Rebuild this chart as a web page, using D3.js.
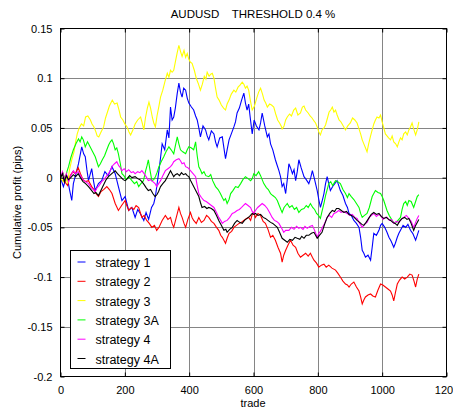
<!DOCTYPE html>
<html>
<head>
<meta charset="utf-8">
<script src="https://cdn.jsdelivr.net/npm/d3@7"></script>
<style>
  body { margin: 0; background: #fff; }
  svg { display: block; }
  text { font-family: "Liberation Sans", Arial, sans-serif; fill: #000; }
</style>
</head>
<body>
<svg id="chart" width="453" height="413"></svg>
<script>
// ---- chart data -------------------------------------------------------
const chartTitle = "AUDUSD    THRESHOLD 0.4 %";
const xLabel = "trade";
const yLabel = "Cumulative profit (pips)";
const xTicks = [0, 200, 400, 600, 800, 1000, 1200];
const yTicks = [-0.2, -0.15, -0.1, -0.05, 0, 0.05, 0.1, 0.15];
const seriesNames = ["strategy 1", "strategy 2", "strategy 3", "strategy 3A", "strategy 4", "strategy 4A"];
const seriesColors = ["#0000ff", "#ff0000", "#ffff00", "#00ff00", "#ff00ff", "#000000"];

// each series: [trade, cumulative profit]
const strategy1 = [[0,0],[9,-0.009],[20,0.002],[28,-0.012],[35,-0.023],[40,-0.006],[48,0.004],[56,0.014],[66,0.031],[72,0.024],[77,0.021],[82,0.008],[87,-0.003],[97,0.009],[103,-0.004],[108,-0.013],[118,-0.006],[128,-0.003],[138,0.006],[148,0.002],[160,0.011],[170,0.004],[180,-0.009],[191,-0.023],[201,-0.019],[212,-0.033],[222,-0.030],[232,-0.040],[240,-0.032],[248,-0.036],[259,-0.043],[266,-0.035],[274,-0.042],[283,-0.030],[290,-0.026],[295,-0.019],[306,0.007],[311,0.020],[316,0.034],[324,0.028],[332,0.048],[337,0.040],[342,0.071],[347,0.058],[352,0.061],[357,0.070],[363,0.085],[368,0.095],[373,0.086],[378,0.081],[383,0.090],[389,0.088],[394,0.080],[399,0.075],[407,0.071],[414,0.068],[420,0.062],[425,0.058],[430,0.050],[435,0.041],[443,0.052],[451,0.048],[456,0.042],[461,0.038],[469,0.047],[477,0.044],[482,0.036],[487,0.031],[495,0.040],[503,0.041],[508,0.030],[513,0.019],[518,0.028],[524,0.038],[531,0.044],[539,0.051],[544,0.056],[549,0.065],[556,0.070],[563,0.078],[570,0.085],[575,0.075],[580,0.068],[585,0.074],[590,0.060],[596,0.044],[602,0.058],[609,0.052],[617,0.048],[622,0.055],[627,0.065],[635,0.052],[643,0.041],[648,0.044],[653,0.034],[660,0.028],[668,0.018],[674,0.012],[679,0.007],[684,0.001],[689,-0.009],[694,-0.006],[700,-0.016],[705,-0.002],[710,0.014],[715,0.010],[721,0.004],[726,0.008],[731,-0.003],[736,0.006],[741,0.018],[748,0.010],[757,0.001],[764,-0.002],[772,-0.006],[778,0.000],[783,0.007],[790,-0.002],[798,-0.013],[803,-0.022],[808,-0.030],[813,-0.024],[819,-0.016],[824,-0.006],[829,0.001],[834,-0.006],[839,-0.013],[848,-0.008],[855,-0.005],[860,-0.003],[865,-0.008],[870,-0.013],[878,-0.018],[886,-0.026],[892,-0.030],[897,-0.036],[904,-0.038],[912,-0.043],[920,-0.046],[928,-0.050],[933,-0.060],[938,-0.073],[943,-0.076],[948,-0.080],[956,-0.078],[964,-0.083],[969,-0.070],[974,-0.056],[982,-0.058],[990,-0.053],[995,-0.048],[1000,-0.046],[1008,-0.050],[1015,-0.055],[1021,-0.060],[1028,-0.064],[1036,-0.070],[1041,-0.066],[1047,-0.060],[1052,-0.056],[1057,-0.053],[1065,-0.048],[1073,-0.050],[1080,-0.047],[1088,-0.053],[1095,-0.056],[1104,-0.063],[1109,-0.058],[1114,-0.053]];

const strategy2 = [[0,0],[8,0.004],[15,-0.005],[22,-0.008],[30,0.002],[38,0.006],[46,0.004],[55,0.010],[62,0.004],[70,-0.002],[78,-0.004],[87,-0.003],[97,-0.009],[104,-0.012],[110,-0.016],[118,-0.019],[126,-0.014],[134,-0.012],[144,-0.009],[152,-0.012],[160,-0.016],[170,-0.026],[180,-0.033],[190,-0.028],[201,-0.023],[206,-0.028],[212,-0.033],[220,-0.030],[228,-0.032],[235,-0.028],[243,-0.030],[253,-0.040],[260,-0.038],[268,-0.043],[276,-0.046],[284,-0.050],[292,-0.048],[299,-0.053],[306,-0.050],[316,-0.043],[326,-0.038],[334,-0.042],[342,-0.040],[347,-0.046],[352,-0.050],[360,-0.040],[368,-0.030],[373,-0.036],[378,-0.040],[384,-0.046],[389,-0.050],[396,-0.042],[404,-0.035],[409,-0.040],[414,-0.043],[422,-0.046],[430,-0.040],[438,-0.045],[446,-0.043],[454,-0.038],[461,-0.040],[469,-0.044],[477,-0.046],[485,-0.050],[492,-0.053],[498,-0.058],[503,-0.060],[508,-0.063],[513,-0.066],[518,-0.061],[524,-0.056],[532,-0.054],[539,-0.050],[547,-0.048],[555,-0.046],[562,-0.045],[570,-0.043],[578,-0.041],[585,-0.040],[591,-0.043],[596,-0.037],[601,-0.035],[606,-0.040],[614,-0.036],[622,-0.038],[630,-0.044],[637,-0.046],[645,-0.052],[653,-0.060],[660,-0.058],[668,-0.063],[676,-0.070],[684,-0.076],[689,-0.085],[694,-0.078],[700,-0.073],[707,-0.068],[715,-0.063],[723,-0.068],[731,-0.070],[738,-0.076],[746,-0.080],[754,-0.078],[762,-0.076],[770,-0.079],[777,-0.076],[783,-0.080],[788,-0.083],[796,-0.086],[803,-0.090],[811,-0.088],[819,-0.087],[826,-0.090],[834,-0.088],[844,-0.091],[855,-0.093],[862,-0.096],[870,-0.100],[878,-0.104],[886,-0.107],[892,-0.108],[897,-0.110],[904,-0.107],[912,-0.105],[920,-0.110],[928,-0.114],[933,-0.120],[938,-0.127],[943,-0.123],[948,-0.120],[956,-0.118],[964,-0.117],[971,-0.119],[979,-0.120],[987,-0.113],[995,-0.107],[1002,-0.108],[1010,-0.110],[1018,-0.112],[1026,-0.114],[1031,-0.118],[1036,-0.124],[1041,-0.116],[1047,-0.107],[1054,-0.103],[1062,-0.100],[1070,-0.102],[1078,-0.100],[1086,-0.097],[1093,-0.098],[1099,-0.104],[1104,-0.110],[1109,-0.102],[1114,-0.097]];

const strategy3 = [[0,0],[8,-0.004],[15,0.002],[22,-0.006],[28,0.008],[35,0.018],[42,0.026],[47,0.036],[52,0.044],[58,0.050],[65,0.054],[72,0.052],[78,0.061],[85,0.062],[93,0.058],[98,0.054],[104,0.051],[110,0.046],[114,0.042],[119,0.041],[126,0.046],[134,0.051],[140,0.060],[146,0.066],[152,0.072],[161,0.078],[168,0.074],[176,0.075],[182,0.068],[187,0.061],[194,0.058],[200,0.054],[207,0.051],[213,0.046],[218,0.043],[225,0.048],[232,0.054],[240,0.058],[249,0.061],[254,0.055],[259,0.048],[264,0.060],[270,0.070],[275,0.076],[280,0.070],[286,0.060],[290,0.055],[295,0.051],[300,0.062],[306,0.072],[311,0.081],[318,0.088],[325,0.097],[332,0.105],[337,0.101],[342,0.108],[347,0.106],[352,0.108],[358,0.118],[363,0.126],[368,0.133],[373,0.127],[378,0.122],[384,0.128],[389,0.121],[394,0.125],[399,0.119],[404,0.116],[409,0.115],[416,0.108],[422,0.100],[429,0.094],[435,0.088],[441,0.094],[447,0.102],[452,0.099],[456,0.106],[462,0.102],[467,0.104],[472,0.105],[477,0.100],[482,0.090],[487,0.081],[493,0.078],[500,0.073],[507,0.070],[513,0.068],[518,0.074],[524,0.078],[531,0.084],[539,0.088],[545,0.086],[552,0.091],[558,0.093],[565,0.096],[570,0.094],[575,0.090],[580,0.092],[585,0.088],[590,0.078],[596,0.068],[603,0.072],[610,0.080],[616,0.086],[622,0.090],[628,0.084],[633,0.078],[638,0.075],[643,0.071],[650,0.074],[656,0.073],[663,0.071],[669,0.064],[675,0.058],[681,0.055],[686,0.052],[689,0.049],[695,0.052],[700,0.058],[705,0.061],[712,0.064],[718,0.062],[725,0.068],[731,0.070],[738,0.063],[746,0.065],[752,0.071],[757,0.072],[762,0.068],[770,0.065],[776,0.062],[782,0.060],[788,0.057],[793,0.055],[798,0.051],[803,0.046],[808,0.043],[813,0.048],[819,0.050],[824,0.053],[830,0.060],[835,0.066],[840,0.068],[845,0.071],[850,0.066],[855,0.068],[860,0.063],[866,0.058],[872,0.056],[879,0.052],[886,0.048],[893,0.052],[901,0.055],[908,0.060],[915,0.058],[922,0.055],[927,0.050],[933,0.044],[938,0.038],[943,0.034],[948,0.030],[953,0.026],[958,0.034],[964,0.042],[969,0.048],[974,0.054],[979,0.058],[984,0.061],[990,0.060],[995,0.063],[1000,0.056],[1005,0.050],[1010,0.044],[1015,0.042],[1020,0.040],[1026,0.038],[1031,0.042],[1036,0.036],[1042,0.034],[1047,0.031],[1052,0.036],[1057,0.040],[1062,0.038],[1067,0.044],[1073,0.046],[1078,0.043],[1083,0.048],[1088,0.051],[1093,0.055],[1098,0.049],[1104,0.043],[1109,0.048],[1114,0.056]];

const strategy3A = [[0,0],[8,0.004],[15,-0.002],[20,0.006],[25,0.011],[32,0.020],[40,0.028],[48,0.034],[56,0.039],[61,0.036],[66,0.041],[71,0.038],[77,0.031],[84,0.036],[92,0.031],[100,0.026],[108,0.021],[113,0.016],[118,0.011],[124,0.014],[130,0.018],[137,0.022],[144,0.028],[150,0.033],[155,0.036],[160,0.038],[165,0.034],[170,0.028],[175,0.030],[180,0.024],[186,0.014],[191,0.004],[197,0.002],[204,-0.002],[212,0.001],[222,-0.003],[230,-0.006],[237,-0.004],[243,-0.009],[250,-0.006],[258,-0.003],[264,0.006],[269,0.012],[273,0.018],[278,0.008],[284,-0.003],[290,-0.002],[295,0.001],[300,0.005],[306,0.011],[313,0.016],[321,0.021],[328,0.026],[337,0.031],[344,0.028],[352,0.024],[357,0.032],[363,0.041],[368,0.034],[373,0.028],[380,0.026],[389,0.024],[394,0.028],[399,0.031],[406,0.030],[414,0.028],[420,0.036],[425,0.022],[430,0.011],[435,0.008],[440,0.004],[446,0.006],[452,0.002],[461,0.001],[467,0.003],[473,-0.003],[482,-0.009],[490,-0.012],[497,-0.016],[503,-0.020],[508,-0.023],[513,-0.021],[518,-0.026],[524,-0.022],[529,-0.016],[536,-0.013],[544,-0.009],[552,-0.010],[560,-0.006],[567,-0.002],[575,0.001],[583,-0.001],[591,-0.003],[596,-0.001],[601,0.004],[608,0.002],[616,0.006],[622,0.002],[627,-0.002],[632,-0.006],[640,-0.010],[646,-0.012],[653,-0.016],[660,-0.018],[668,-0.020],[674,-0.023],[680,-0.028],[685,-0.032],[689,-0.035],[695,-0.030],[700,-0.028],[705,-0.026],[712,-0.030],[720,-0.028],[727,-0.032],[734,-0.030],[741,-0.035],[749,-0.032],[757,-0.031],[764,-0.028],[770,-0.030],[777,-0.026],[784,-0.030],[790,-0.032],[796,-0.036],[802,-0.038],[808,-0.041],[813,-0.034],[819,-0.026],[824,-0.018],[829,-0.012],[834,-0.006],[840,-0.004],[846,-0.008],[855,-0.003],[862,-0.004],[870,-0.006],[878,-0.012],[886,-0.016],[892,-0.020],[897,-0.016],[904,-0.019],[912,-0.022],[920,-0.026],[928,-0.030],[933,-0.036],[938,-0.040],[945,-0.038],[953,-0.036],[960,-0.030],[969,-0.019],[974,-0.016],[979,-0.013],[987,-0.015],[995,-0.016],[1000,-0.019],[1005,-0.023],[1010,-0.028],[1015,-0.033],[1022,-0.038],[1031,-0.043],[1036,-0.045],[1041,-0.046],[1049,-0.043],[1057,-0.040],[1062,-0.032],[1067,-0.026],[1073,-0.024],[1078,-0.028],[1083,-0.023],[1090,-0.024],[1098,-0.030],[1104,-0.024],[1109,-0.019],[1114,-0.017]];

const strategy4 = [[0,0],[6,0.006],[12,-0.002],[18,0.004],[25,-0.004],[32,0.002],[40,0.007],[47,0.004],[55,0.006],[62,0.002],[70,-0.002],[78,-0.004],[87,-0.006],[95,-0.010],[102,-0.012],[108,-0.014],[114,-0.010],[120,-0.008],[128,-0.004],[135,-0.002],[142,0.001],[149,0.004],[156,0.008],[162,0.012],[168,0.014],[175,0.016],[181,0.012],[186,0.010],[191,0.007],[198,0.009],[205,0.006],[212,0.008],[220,0.005],[226,0.006],[232,0.004],[240,0.006],[247,0.005],[253,0.007],[260,0.004],[266,0.001],[273,-0.003],[280,-0.002],[287,-0.004],[294,-0.006],[299,-0.009],[305,-0.006],[311,-0.003],[318,0.002],[326,0.007],[334,0.009],[342,0.011],[347,0.013],[352,0.016],[360,0.018],[368,0.019],[373,0.017],[378,0.014],[384,0.015],[389,0.011],[396,0.010],[404,0.007],[412,0.004],[420,0.001],[425,-0.008],[430,-0.016],[438,-0.020],[446,-0.023],[453,-0.024],[461,-0.026],[469,-0.028],[477,-0.030],[485,-0.035],[492,-0.040],[498,-0.043],[503,-0.046],[510,-0.044],[518,-0.043],[526,-0.040],[534,-0.036],[541,-0.035],[549,-0.033],[556,-0.032],[563,-0.030],[569,-0.028],[575,-0.026],[583,-0.028],[591,-0.030],[596,-0.034],[601,-0.036],[606,-0.033],[613,-0.030],[620,-0.028],[627,-0.026],[635,-0.028],[643,-0.031],[650,-0.035],[658,-0.040],[665,-0.043],[672,-0.044],[679,-0.046],[686,-0.050],[694,-0.055],[700,-0.053],[710,-0.053],[718,-0.050],[726,-0.052],[734,-0.049],[741,-0.051],[746,-0.050],[754,-0.052],[760,-0.049],[767,-0.051],[775,-0.049],[783,-0.048],[790,-0.053],[798,-0.060],[803,-0.056],[808,-0.054],[813,-0.051],[821,-0.046],[829,-0.040],[836,-0.038],[843,-0.040],[850,-0.036],[857,-0.035],[865,-0.033],[872,-0.035],[880,-0.034],[891,-0.036],[899,-0.038],[907,-0.037],[915,-0.040],[922,-0.041],[930,-0.046],[938,-0.050],[945,-0.047],[953,-0.045],[960,-0.040],[967,-0.038],[974,-0.036],[982,-0.039],[990,-0.037],[995,-0.038],[1003,-0.042],[1010,-0.040],[1015,-0.040],[1022,-0.043],[1029,-0.042],[1036,-0.046],[1044,-0.044],[1052,-0.045],[1059,-0.042],[1067,-0.040],[1075,-0.038],[1083,-0.041],[1090,-0.044],[1098,-0.050],[1104,-0.045],[1109,-0.041],[1114,-0.038]];

const strategy4A = [[0,0],[6,0.004],[12,-0.004],[18,0.002],[25,-0.002],[32,0.000],[40,0.003],[47,0.001],[55,0.004],[62,0.000],[70,-0.004],[78,-0.006],[87,-0.009],[97,-0.013],[104,-0.016],[110,-0.015],[118,-0.018],[124,-0.014],[130,-0.010],[136,-0.006],[142,-0.002],[149,0.001],[156,0.003],[163,0.005],[170,0.007],[177,0.004],[183,0.002],[189,0.000],[195,-0.002],[201,-0.003],[208,-0.001],[215,0.002],[222,0.000],[232,0.001],[240,-0.001],[247,-0.002],[253,-0.004],[260,-0.007],[266,-0.010],[273,-0.013],[280,-0.012],[287,-0.016],[294,-0.019],[300,-0.017],[305,-0.014],[311,-0.009],[318,-0.006],[326,-0.003],[334,0.002],[342,0.007],[347,0.004],[352,0.001],[357,0.003],[363,0.004],[370,0.002],[376,0.005],[382,0.003],[389,0.004],[394,0.002],[399,0.001],[406,-0.004],[414,-0.009],[422,-0.014],[430,-0.019],[435,-0.025],[440,-0.030],[448,-0.029],[455,-0.031],[461,-0.030],[469,-0.031],[477,-0.033],[485,-0.038],[492,-0.043],[500,-0.048],[508,-0.053],[514,-0.052],[518,-0.055],[526,-0.052],[534,-0.050],[541,-0.046],[549,-0.043],[557,-0.045],[565,-0.046],[572,-0.043],[580,-0.041],[588,-0.039],[596,-0.036],[601,-0.037],[606,-0.036],[614,-0.038],[622,-0.037],[630,-0.040],[637,-0.041],[645,-0.043],[653,-0.045],[660,-0.046],[667,-0.048],[674,-0.050],[681,-0.055],[689,-0.061],[697,-0.063],[705,-0.065],[713,-0.062],[721,-0.063],[729,-0.060],[736,-0.061],[744,-0.062],[750,-0.059],[757,-0.061],[764,-0.058],[772,-0.058],[780,-0.056],[788,-0.055],[793,-0.058],[798,-0.061],[805,-0.058],[813,-0.055],[821,-0.047],[829,-0.040],[837,-0.036],[845,-0.033],[852,-0.034],[858,-0.031],[865,-0.031],[873,-0.033],[881,-0.035],[889,-0.034],[897,-0.037],[905,-0.038],[913,-0.040],[922,-0.043],[930,-0.045],[937,-0.047],[943,-0.048],[950,-0.045],[958,-0.041],[966,-0.037],[974,-0.035],[982,-0.037],[990,-0.036],[997,-0.039],[1005,-0.041],[1013,-0.040],[1020,-0.042],[1026,-0.043],[1033,-0.045],[1040,-0.046],[1047,-0.048],[1054,-0.044],[1062,-0.041],[1070,-0.040],[1077,-0.042],[1083,-0.041],[1090,-0.046],[1098,-0.053],[1104,-0.048],[1109,-0.045],[1114,-0.042]];

const seriesData = [strategy1, strategy2, strategy3, strategy3A, strategy4, strategy4A];

// ---- layout -----------------------------------------------------------
const plot = { left: 60.5, right: 446.5, top: 28.5, bottom: 376.5 };
const svg = d3.select("#chart");

const x = d3.scaleLinear().domain([0, 1200]).range([plot.left, plot.right]);
const y = d3.scaleLinear().domain([-0.2, 0.15]).range([plot.bottom, plot.top]);

// grid
const grid = svg.append("g").attr("stroke", "#858585").attr("stroke-width", 1);
grid.selectAll("line.vx").data(xTicks.slice(1, -1)).join("line")
  .attr("x1", d => Math.round(x(d)) + 0.5).attr("x2", d => Math.round(x(d)) + 0.5)
  .attr("y1", plot.top).attr("y2", plot.bottom);
grid.selectAll("line.hy").data(yTicks.slice(1, -1)).join("line")
  .attr("y1", d => Math.round(y(d)) + 0.5).attr("y2", d => Math.round(y(d)) + 0.5)
  .attr("x1", plot.left).attr("x2", plot.right);

// series lines (drawn in legend order)
const line = d3.line().x(d => x(d[0])).y(d => y(d[1]));
svg.append("g").selectAll("path").data(seriesData).join("path")
  .attr("d", line)
  .attr("fill", "none")
  .attr("stroke", (d, i) => seriesColors[i])
  .attr("stroke-width", 1.1)
  .attr("stroke-linejoin", "miter");

// axes with inward ticks on all four sides
const fmtX = d => String(d);
const fmtY = d => String(+d.toFixed(2));
const axB = svg.append("g").attr("transform", `translate(0,${plot.bottom})`)
  .call(d3.axisBottom(x).tickValues(xTicks).tickSizeInner(-4).tickSizeOuter(0).tickPadding(10).tickFormat(fmtX));
const axT = svg.append("g").attr("transform", `translate(0,${plot.top})`)
  .call(d3.axisTop(x).tickValues(xTicks).tickSizeInner(-4).tickSizeOuter(0).tickFormat(""));
const axL = svg.append("g").attr("transform", `translate(${plot.left},0)`)
  .call(d3.axisLeft(y).tickValues(yTicks).tickSizeInner(-4).tickSizeOuter(0).tickPadding(8).tickFormat(fmtY));
const axR = svg.append("g").attr("transform", `translate(${plot.right},0)`)
  .call(d3.axisRight(y).tickValues(yTicks).tickSizeInner(-4).tickSizeOuter(0).tickFormat(""));
[axB, axT, axL, axR].forEach(a => {
  a.select(".domain").remove();
  a.selectAll(".tick line").attr("stroke", "#000");
  a.selectAll("text").attr("font-family", "'Liberation Sans', Arial, sans-serif").attr("font-size", 11).attr("fill", "#000");
});

// frame
svg.append("rect")
  .attr("x", plot.left).attr("y", plot.top)
  .attr("width", plot.right - plot.left).attr("height", plot.bottom - plot.top)
  .attr("fill", "none").attr("stroke", "#000").attr("stroke-width", 1);

// title and axis labels
svg.append("text").attr("x", 253).attr("y", 18)
  .attr("text-anchor", "middle").attr("font-size", 11.5)
  .style("white-space", "pre").text(chartTitle);
svg.append("text").attr("x", 253).attr("y", 407)
  .attr("text-anchor", "middle").attr("font-size", 11).text(xLabel);
svg.append("text")
  .attr("transform", `translate(21,${(plot.top + plot.bottom) / 2}) rotate(-90)`)
  .attr("text-anchor", "middle").attr("font-size", 11).text(yLabel);

// legend
const legend = svg.append("g").attr("transform", "translate(70.5,250.5)");
legend.append("rect").attr("width", 100).attr("height", 118)
  .attr("fill", "#fff").attr("stroke", "#000").attr("stroke-width", 1);
const rows = legend.selectAll("g").data(seriesNames).join("g")
  .attr("transform", (d, i) => `translate(0,${12.5 + i * 19.3})`);
rows.append("line").attr("x1", 7).attr("x2", 15).attr("y1", -1).attr("y2", -1)
  .attr("stroke", (d, i) => seriesColors[i]).attr("stroke-width", 1);
rows.append("text").attr("x", 25).attr("y", 4)
  .attr("font-family", "Lato, 'Open Sans', sans-serif").attr("font-size", 12.5)
  .text(d => d);
</script>
</body>
</html>
